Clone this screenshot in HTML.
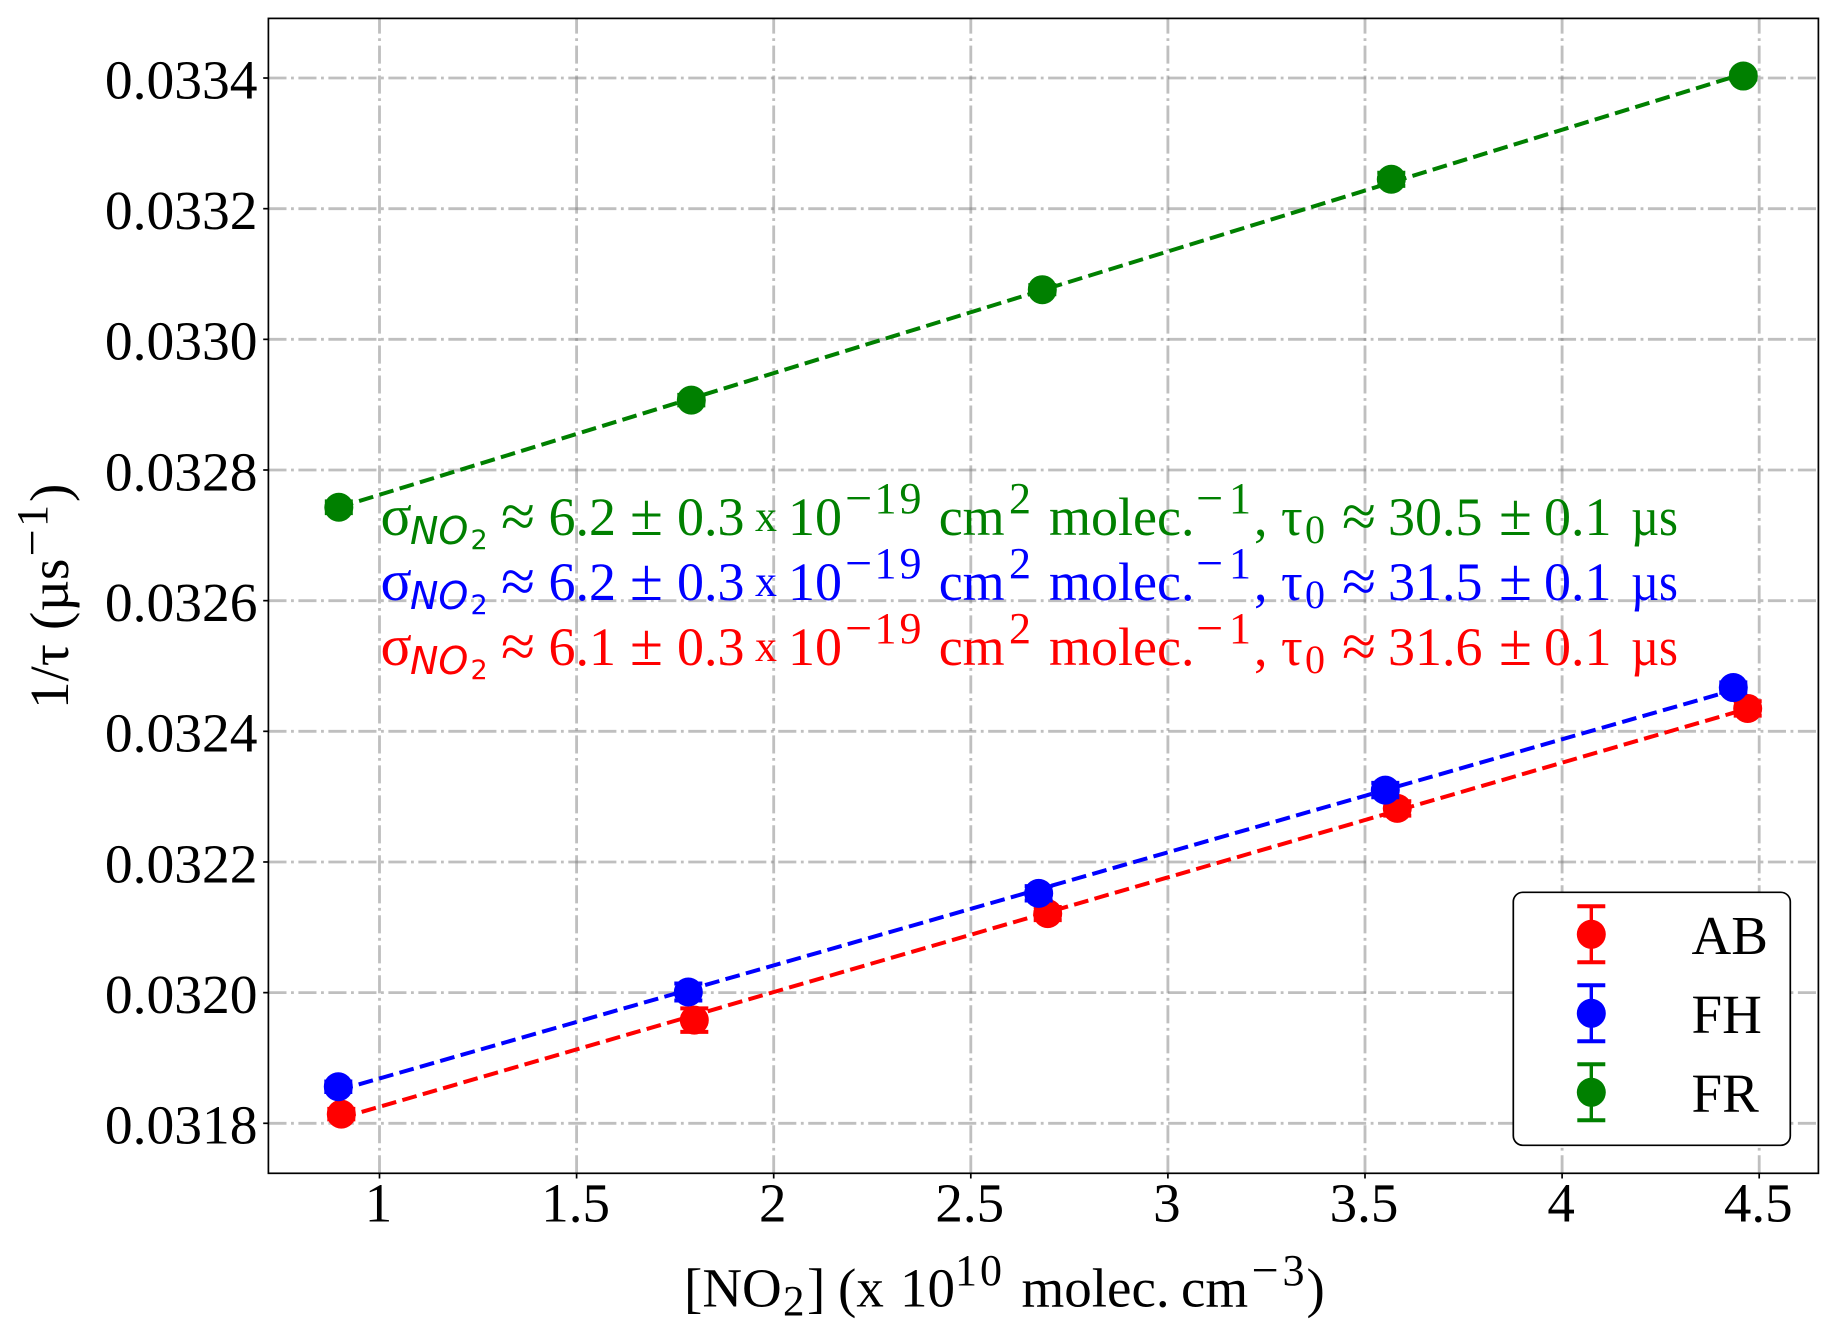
<!DOCTYPE html>
<html lang="en">
<head>
<meta charset="utf-8">
<title>1/tau vs NO2 concentration</title>
<style>
html,body{margin:0;padding:0;background:#fff;}
svg{display:block;}
text{font-family:"Liberation Serif","Times New Roman",serif;}
.m{font-size:54px;}
.sup{font-size:44px;letter-spacing:3px;}
.mn{font-size:48px;}
.apx{font-size:62px;}
.pm{font-size:60px;}
.sg{font-size:58px;}
.sm{font-size:40px;}
.x{font-size:44px;}
.dj{font-family:"DejaVu Sans",sans-serif;font-style:italic;font-size:38px;}
.dj2{font-family:"DejaVu Sans",sans-serif;font-size:27px;}
</style>
</head>
<body>
<svg id="chart" xmlns="http://www.w3.org/2000/svg" width="1838" height="1338" viewBox="0 0 1838 1338">
  <rect width="1838" height="1338" fill="#fff"/>
  <g id="grid"></g>
  <g id="series"></g>
  <g id="ticks"></g>
  <rect x="268.4" y="18.4" width="1550" height="1154.9" fill="none" stroke="#000" stroke-width="1.7"/>

  <g fill="#008000" transform="translate(0,0)">
    <text class="sg" x="380.5" y="535">σ</text><text class="dj" x="410" y="544">NO</text><text class="dj2" x="470.5" y="549">2</text>
    <text class="apx" x="501" y="537">≈</text><text class="m" x="548.5" y="535">6.2</text><text class="pm" x="630" y="535">±</text><text class="m" x="677" y="535">0.3</text>
    <text class="x" x="755" y="531">x</text><text class="m" x="788" y="535">10</text>
    <text class="mn" x="845" y="514">−</text><text class="sup" x="874.5" y="513">19</text>
    <text class="m" x="938.7" y="535">cm</text><text class="sup" x="1009" y="513">2</text>
    <text class="m" x="1049" y="535">molec.</text>
    <text class="mn" x="1196" y="514">−</text><text class="sup" x="1229" y="513">1</text>
    <text class="m" x="1254" y="535">,</text><text class="m" x="1281" y="535">τ</text><text class="sm" x="1305" y="543">0</text>
    <text class="apx" x="1342" y="537">≈</text><text class="m" x="1388" y="535">30.5</text><text class="pm" x="1499" y="535">±</text><text class="m" x="1544" y="535">0.1</text><text class="m" x="1631" y="535" textLength="47" lengthAdjust="spacingAndGlyphs">µs</text>
  </g>
  <g fill="#0000ff" transform="translate(0,65)">
    <text class="sg" x="380.5" y="535">σ</text><text class="dj" x="410" y="544">NO</text><text class="dj2" x="470.5" y="549">2</text>
    <text class="apx" x="501" y="537">≈</text><text class="m" x="548.5" y="535">6.2</text><text class="pm" x="630" y="535">±</text><text class="m" x="677" y="535">0.3</text>
    <text class="x" x="755" y="531">x</text><text class="m" x="788" y="535">10</text>
    <text class="mn" x="845" y="514">−</text><text class="sup" x="874.5" y="513">19</text>
    <text class="m" x="938.7" y="535">cm</text><text class="sup" x="1009" y="513">2</text>
    <text class="m" x="1049" y="535">molec.</text>
    <text class="mn" x="1196" y="514">−</text><text class="sup" x="1229" y="513">1</text>
    <text class="m" x="1254" y="535">,</text><text class="m" x="1281" y="535">τ</text><text class="sm" x="1305" y="543">0</text>
    <text class="apx" x="1342" y="537">≈</text><text class="m" x="1388" y="535">31.5</text><text class="pm" x="1499" y="535">±</text><text class="m" x="1544" y="535">0.1</text><text class="m" x="1631" y="535" textLength="47" lengthAdjust="spacingAndGlyphs">µs</text>
  </g>
  <g fill="#ff0000" transform="translate(0,130)">
    <text class="sg" x="380.5" y="535">σ</text><text class="dj" x="410" y="544">NO</text><text class="dj2" x="470.5" y="549">2</text>
    <text class="apx" x="501" y="537">≈</text><text class="m" x="548.5" y="535">6.1</text><text class="pm" x="630" y="535">±</text><text class="m" x="677" y="535">0.3</text>
    <text class="x" x="755" y="531">x</text><text class="m" x="788" y="535">10</text>
    <text class="mn" x="845" y="514">−</text><text class="sup" x="874.5" y="513">19</text>
    <text class="m" x="938.7" y="535">cm</text><text class="sup" x="1009" y="513">2</text>
    <text class="m" x="1049" y="535">molec.</text>
    <text class="mn" x="1196" y="514">−</text><text class="sup" x="1229" y="513">1</text>
    <text class="m" x="1254" y="535">,</text><text class="m" x="1281" y="535">τ</text><text class="sm" x="1305" y="543">0</text>
    <text class="apx" x="1342" y="537">≈</text><text class="m" x="1388" y="535">31.6</text><text class="pm" x="1499" y="535">±</text><text class="m" x="1544" y="535">0.1</text><text class="m" x="1631" y="535" textLength="47" lengthAdjust="spacingAndGlyphs">µs</text>
  </g>

  <g fill="#000">
    <text font-size="55" x="684" y="1306.7">[NO</text>
    <text font-size="43" x="783" y="1315.7">2</text>
    <text font-size="55" x="807" y="1306.7">]</text>
    <text font-size="55" x="838" y="1306.7">(x</text>
    <text font-size="55" x="900" y="1306.7">10</text>
    <text class="sup" x="955" y="1285">10</text>
    <text font-size="55" x="1021.5" y="1306.7">molec.</text>
    <text font-size="55" x="1181" y="1306.7">cm</text>
    <text class="mn" x="1251.5" y="1286">−</text>
    <text class="sup" x="1282.5" y="1285">3</text>
    <text font-size="55" x="1306.5" y="1306.7">)</text>
  </g>
  <g fill="#000" transform="translate(68,0) rotate(-90)">
    <text font-size="55" x="-709" y="0">1/τ</text>
    <text font-size="55" x="-630" y="0">(µs</text>
    <text class="mn" x="-556.5" y="-20">−</text>
    <text class="sup" x="-527" y="-21">1</text>
    <text font-size="55" x="-502" y="0">)</text>
  </g>

  <g>
    <rect x="1513.3" y="892.3" width="277" height="253" rx="9.5" ry="9.5" fill="#fff" stroke="#000" stroke-width="1.7"/>
    <g id="legend-marks"></g>
  </g>
</svg>

<script>
const xTickValues = [1, 1.5, 2, 2.5, 3, 3.5, 4, 4.5];
const xTickLabels = ["1", "1.5", "2", "2.5", "3", "3.5", "4", "4.5"];
const yTickValues = [0.0318, 0.0320, 0.0322, 0.0324, 0.0326, 0.0328, 0.0330, 0.0332, 0.0334];
const yTickLabels = ["0.0318", "0.0320", "0.0322", "0.0324", "0.0326", "0.0328", "0.0330", "0.0332", "0.0334"];

const seriesNames = ["AB", "FH", "FR"];
const seriesColors = ["#ff0000", "#0000ff", "#008000"];

const abX = [0.9031, 1.7986, 2.6951, 3.5819, 4.4708];
const abY = [0.031814, 0.031958, 0.032121, 0.032282, 0.032435];
const abErr = [0.000008, 0.000018, 0.000010, 0.000011, 0.000011];

const fhX = [0.8955, 1.7834, 2.6722, 3.5515, 4.4343];
const fhY = [0.031856, 0.032001, 0.032152, 0.032310, 0.032467];
const fhErr = [0.000008, 0.000013, 0.000011, 0.000011, 0.000008];

const frX = [0.8968, 1.7910, 2.6814, 3.5667, 4.4597];
const frY = [0.032743, 0.032907, 0.033076, 0.033245, 0.033403];
const frErr = [0.000009, 0.000008, 0.000007, 0.000010, 0.000005];

const SVGNS = "http://www.w3.org/2000/svg";
const PLOT = {left: 268.4, right: 1818.4, top: 18.4, bottom: 1173.3};

function xScale(v) { return 379.5 + (v - 1) * 394.2; }
function yScale(v) { return 1123.3 - (v - 0.0318) / 0.0002 * 130.66; }

function make(tag, attrs, parent) {
  const node = document.createElementNS(SVGNS, tag);
  for (const k in attrs) { node.setAttribute(k, attrs[k]); }
  parent.appendChild(node);
  return node;
}

function leastSquares(xs, ys) {
  const n = xs.length;
  const mx = xs.reduce((a, b) => a + b, 0) / n;
  const my = ys.reduce((a, b) => a + b, 0) / n;
  let num = 0, den = 0;
  for (let i = 0; i < n; i++) {
    num += (xs[i] - mx) * (ys[i] - my);
    den += (xs[i] - mx) * (xs[i] - mx);
  }
  const slope = num / den;
  return {slope: slope, intercept: my - slope * mx};
}

const gridLayer = document.getElementById("grid");
const tickLayer = document.getElementById("ticks");
const seriesLayer = document.getElementById("series");
const legendLayer = document.getElementById("legend-marks");

const gridStyle = {stroke: "#808080", "stroke-opacity": 0.5, "stroke-width": 2.83, "stroke-dasharray": "18.1 4.53 2.83 4.53", fill: "none"};

yTickValues.forEach(function (v, i) {
  const y = yScale(v);
  const line = make("line", Object.assign({x1: PLOT.left, x2: PLOT.right, y1: y, y2: y}, gridStyle), gridLayer);
  
  
  const tick = make("line", {x1: PLOT.left - 5.2, x2: PLOT.left, y1: y, y2: y, stroke: "#000", "stroke-width": 1.7}, tickLayer);
  
  
  const label = make("text", {x: 257.5, y: y + 20.3, "text-anchor": "end", "font-size": 55.5, fill: "#000"}, tickLayer);
  label.textContent = yTickLabels[i];
  
  
});

xTickValues.forEach(function (v, i) {
  const x = xScale(v);
  const line = make("line", Object.assign({x1: x, x2: x, y1: PLOT.bottom, y2: PLOT.top}, gridStyle), gridLayer);
  
  
  const tick = make("line", {x1: x, x2: x, y1: PLOT.bottom, y2: PLOT.bottom + 5.2, stroke: "#000", "stroke-width": 1.7}, tickLayer);
  
  
  const label = make("text", {x: x - 1, y: 1221.7, "text-anchor": "middle", "font-size": 55, fill: "#000"}, tickLayer);
  label.textContent = xTickLabels[i];
  
  
});

function drawSeries(idx, xs, ys, errs) {
  const color = seriesColors[idx];
  const name = seriesNames[idx].toLowerCase();
  const g = make("g", {}, seriesLayer);
  
  

  const fit = leastSquares(xs, ys);
  const x0 = xs[0], x1 = xs[xs.length - 1];
  const fitLine = make("line", {
    x1: xScale(x0), y1: yScale(fit.slope * x0 + fit.intercept),
    x2: xScale(x1), y2: yScale(fit.slope * x1 + fit.intercept),
    stroke: color, "stroke-width": 4, "stroke-dasharray": "14.8 6.4", fill: "none"
  }, g);
  
  

  xs.forEach(function (xv, i) {
    const cx = xScale(xv), cy = yScale(ys[i]);
    const top = yScale(ys[i] + errs[i]), bot = yScale(ys[i] - errs[i]);
    const bar = make("line", {x1: cx, x2: cx, y1: top, y2: bot, stroke: color, "stroke-width": 3.4}, g);
    
    
    const capTop = make("line", {x1: cx - 14, x2: cx + 14, y1: top, y2: top, stroke: color, "stroke-width": 4}, g);
    
    
    const capBot = make("line", {x1: cx - 14, x2: cx + 14, y1: bot, y2: bot, stroke: color, "stroke-width": 4}, g);
    
    
    const pt = make("circle", {cx: cx, cy: cy, r: 14.5, fill: color}, g);
    
    
  });
}

drawSeries(0, abX, abY, abErr);
drawSeries(1, fhX, fhY, fhErr);
drawSeries(2, frX, frY, frErr);

seriesNames.forEach(function (nm, i) {
  const cx = 1591.3;
  const cy = 934.3 + i * 79;
  const color = seriesColors[i];
  const entry = make("g", {}, legendLayer);
  
  
  make("line", {x1: cx, x2: cx, y1: cy - 28, y2: cy + 28, stroke: color, "stroke-width": 3.4}, entry);
  make("line", {x1: cx - 14, x2: cx + 14, y1: cy - 28, y2: cy - 28, stroke: color, "stroke-width": 4}, entry);
  make("line", {x1: cx - 14, x2: cx + 14, y1: cy + 28, y2: cy + 28, stroke: color, "stroke-width": 4}, entry);
  make("circle", {cx: cx, cy: cy, r: 14.5, fill: color}, entry);
  const label = make("text", {x: 1691.5, y: cy + 19.5, "font-size": 55, fill: "#000"}, entry);
  label.textContent = nm;
  
  
});
</script>
</body>
</html>
